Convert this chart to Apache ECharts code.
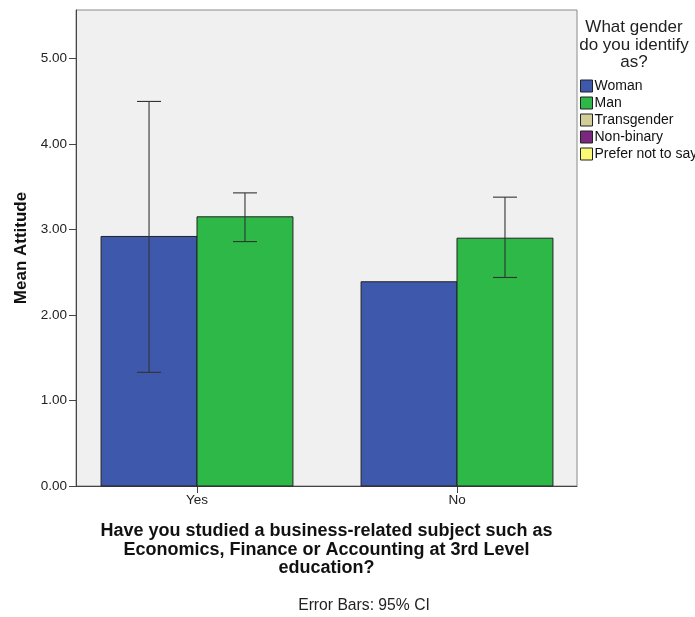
<!DOCTYPE html>
<html><head><meta charset="utf-8">
<script src="https://cdn.jsdelivr.net/npm/echarts@6/dist/echarts.min.js"></script>
<style>html,body{margin:0;padding:0;background:#fff}#c{width:695px;height:617px}</style>
</head><body><div id="c"></div>
<script>
const categories = ['Yes', 'No'];
const seriesNames = ['Woman', 'Man', 'Transgender', 'Non-binary', 'Prefer not to say'];
const seriesColors = ['#3e58ac', '#2eb848', '#d3ce97', '#79287e', '#fbf873'];
const womanMean = [2.92, 2.39];
const womanLow = [1.33, null];
const womanHigh = [4.50, null];
const manMean = [3.15, 2.90];
const manLow = [2.86, 2.44];
const manHigh = [3.43, 3.38];
const yTicks = [0, 1, 2, 3, 4, 5];

const FONT = '"Liberation Sans", Arial, sans-serif';
const BAR_W = 0.369;

function makeData(mean, low, high) {
  return categories.map((c, i) => [i, mean[i], low[i], high[i]]);
}

function renderer(side) {
  return function (params, api) {
    const xi = api.value(0), m = api.value(1);
    const lo = api.value(2), hi = api.value(3);
    const bw = api.size([BAR_W, 0])[0];
    const c = api.coord([xi, 0]);
    const top = api.coord([xi, m]);
    const x0 = side < 0 ? c[0] - bw : c[0];
    const children = [{
      type: 'rect',
      shape: { x: x0, y: top[1], width: bw, height: c[1] - top[1] },
      style: { fill: api.visual('color'), stroke: '#222', lineWidth: 1 }
    }];
    if (lo != null && !isNaN(lo) && hi != null && !isNaN(hi)) {
      const ex = x0 + bw / 2;
      const pl = api.coord([xi, lo])[1], ph = api.coord([xi, hi])[1];
      const cap = 12;
      const st = { stroke: '#333', lineWidth: 1.1 };
      children.push({ type: 'line', shape: { x1: ex, y1: pl, x2: ex, y2: ph }, style: st });
      children.push({ type: 'line', shape: { x1: ex - cap, y1: pl, x2: ex + cap, y2: pl }, style: st });
      children.push({ type: 'line', shape: { x1: ex - cap, y1: ph, x2: ex + cap, y2: ph }, style: st });
    }
    return { type: 'group', children };
  };
}

const chart = echarts.init(document.getElementById('c'), null, { renderer: 'canvas' });
const series = [
  { name: 'Woman', type: 'custom', renderItem: renderer(-1), data: makeData(womanMean, womanLow, womanHigh),
    encode: { x: 0, y: [1, 2, 3] }, itemStyle: { color: seriesColors[0] } },
  { name: 'Man', type: 'custom', renderItem: renderer(1), data: makeData(manMean, manLow, manHigh),
    encode: { x: 0, y: [1, 2, 3] }, itemStyle: { color: seriesColors[1] } }
];
for (let k = 2; k < seriesNames.length; k++) {
  series.push({ name: seriesNames[k], type: 'custom', renderItem: () => ({ type: 'group', children: [] }),
    data: [], itemStyle: { color: seriesColors[k] } });
}

chart.setOption({
  animation: false,
  textStyle: { fontFamily: FONT },
  grid: { left: 76, right: 118, top: 10, bottom: 131, show: true, backgroundColor: '#f0f0f0',
    borderColor: '#8a8a8a', borderWidth: 1, containLabel: false },
  xAxis: {
    type: 'value', min: -0.4654, max: 1.4615,
    splitLine: { show: false },
    axisLine: { show: true, onZero: false, lineStyle: { color: '#444', width: 1 } },
    axisTick: { show: true, customValues: [0, 1], length: 7, lineStyle: { color: '#444' } },
    axisLabel: { customValues: [0, 1], formatter: v => categories[Math.round(v)], color: '#222',
      fontSize: 13.5, margin: 7, fontFamily: FONT },
    name: 'Have you studied a business-related subject such as\nEconomics, Finance or Accounting at 3rd Level\neducation?',
    nameLocation: 'middle', nameGap: 36,
    nameTextStyle: { fontSize: 18, fontWeight: 'bold', color: '#111', lineHeight: 18.5, fontFamily: FONT }
  },
  yAxis: {
    type: 'value', min: 0, max: 5.57,
    splitLine: { show: false },
    axisLine: { show: true, onZero: false, lineStyle: { color: '#444', width: 1 } },
    axisTick: { show: true, customValues: yTicks, length: 7, lineStyle: { color: '#444' } },
    axisLabel: { customValues: yTicks, formatter: v => v.toFixed(2), color: '#222', fontSize: 13.5,
      margin: 9, fontFamily: FONT },
    name: 'Mean Attitude', nameLocation: 'middle', nameGap: 46,
    nameTextStyle: { fontSize: 17, fontWeight: 'bold', color: '#111', fontFamily: FONT }
  },
  legend: {
    orient: 'vertical', left: 580, top: 79, padding: 0, itemWidth: 12, itemHeight: 12, itemGap: 3,
    icon: 'rect', selectedMode: false,
    data: seriesNames.map((n, i) => ({ name: n, itemStyle: { color: seriesColors[i], borderColor: '#222', borderWidth: 1 } })),
    textStyle: { fontSize: 14, color: '#111', padding: [0, 0, 0, -3], fontFamily: FONT }
  },
  graphic: [
    { type: 'text', x: 634, y: 19, z: 10, style: { text: 'What gender\ndo you identify\nas?', fontSize: 17,
      lineHeight: 17.5, fill: '#222', textAlign: 'center', textVerticalAlign: 'top', fontFamily: FONT } },
    { type: 'text', x: 364, y: 598, style: { text: 'Error Bars: 95% CI', fontSize: 15.7, fill: '#222',
      textAlign: 'center', textVerticalAlign: 'top', fontFamily: FONT } }
  ],
  series
});
</script></body></html>
